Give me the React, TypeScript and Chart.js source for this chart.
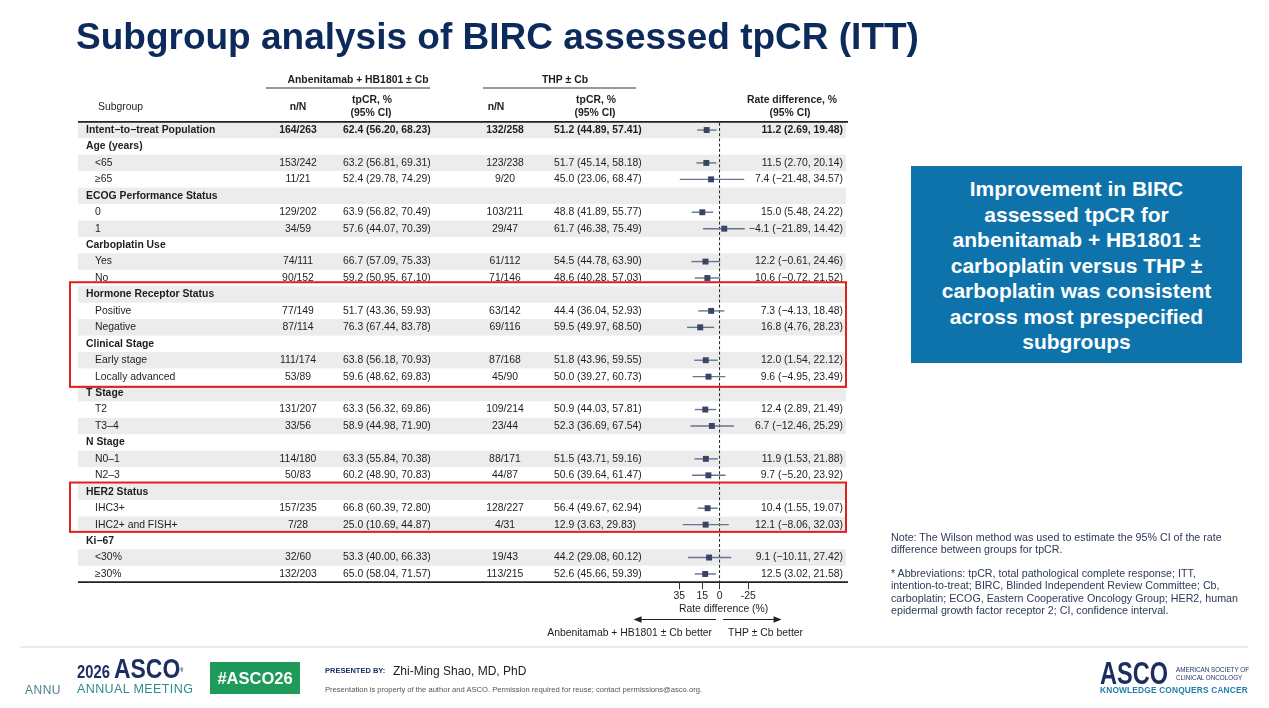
import React, { useEffect, useRef } from "react";
import { Chart, registerables } from "chart.js";

Chart.register(...registerables);

const FONT = "'Liberation Sans', Arial, Helvetica, sans-serif";

const subgroupLabels = [
  "Intent−to−treat Population",
  "Age (years)", "<65", "≥65",
  "ECOG Performance Status", "0", "1",
  "Carboplatin Use", "Yes", "No",
  "Hormone Receptor Status", "Positive", "Negative",
  "Clinical Stage", "Early stage", "Locally advanced",
  "T Stage", "T2", "T3–4",
  "N Stage", "N0–1", "N2–3",
  "HER2 Status", "IHC3+", "IHC2+ and FISH+",
  "Ki−67", "<30%", "≥30%",
];
const boldRows = [true, true, false, false, true, false, false, true, false, false, true, false, false, true, false, false, true, false, false, true, false, false, true, false, false, true, false, false];

const armAResp = [164, null, 153, 11, null, 129, 34, null, 74, 90, null, 77, 87, null, 111, 53, null, 131, 33, null, 114, 50, null, 157, 7, null, 32, 132];
const armATotal = [263, null, 242, 21, null, 202, 59, null, 111, 152, null, 149, 114, null, 174, 89, null, 207, 56, null, 180, 83, null, 235, 28, null, 60, 203];
const armARate = [62.4, null, 63.2, 52.4, null, 63.9, 57.6, null, 66.7, 59.2, null, 51.7, 76.3, null, 63.8, 59.6, null, 63.3, 58.9, null, 63.3, 60.2, null, 66.8, 25.0, null, 53.3, 65.0];
const armALow = [56.20, null, 56.81, 29.78, null, 56.82, 44.07, null, 57.09, 50.95, null, 43.36, 67.44, null, 56.18, 48.62, null, 56.32, 44.98, null, 55.84, 48.90, null, 60.39, 10.69, null, 40.00, 58.04];
const armAHigh = [68.23, null, 69.31, 74.29, null, 70.49, 70.39, null, 75.33, 67.10, null, 59.93, 83.78, null, 70.93, 69.83, null, 69.86, 71.90, null, 70.38, 70.83, null, 72.80, 44.87, null, 66.33, 71.57];

const armBResp = [132, null, 123, 9, null, 103, 29, null, 61, 71, null, 63, 69, null, 87, 45, null, 109, 23, null, 88, 44, null, 128, 4, null, 19, 113];
const armBTotal = [258, null, 238, 20, null, 211, 47, null, 112, 146, null, 142, 116, null, 168, 90, null, 214, 44, null, 171, 87, null, 227, 31, null, 43, 215];
const armBRate = [51.2, null, 51.7, 45.0, null, 48.8, 61.7, null, 54.5, 48.6, null, 44.4, 59.5, null, 51.8, 50.0, null, 50.9, 52.3, null, 51.5, 50.6, null, 56.4, 12.9, null, 44.2, 52.6];
const armBLow = [44.89, null, 45.14, 23.06, null, 41.89, 46.38, null, 44.78, 40.28, null, 36.04, 49.97, null, 43.96, 39.27, null, 44.03, 36.69, null, 43.71, 39.64, null, 49.67, 3.63, null, 29.08, 45.66];
const armBHigh = [57.41, null, 58.18, 68.47, null, 55.77, 75.49, null, 63.90, 57.03, null, 52.93, 68.50, null, 59.55, 60.73, null, 57.81, 67.54, null, 59.16, 61.47, null, 62.94, 29.83, null, 60.12, 59.39];

const diffEst = [11.2, null, 11.5, 7.4, null, 15.0, -4.1, null, 12.2, 10.6, null, 7.3, 16.8, null, 12.0, 9.6, null, 12.4, 6.7, null, 11.9, 9.7, null, 10.4, 12.1, null, 9.1, 12.5];
const diffLow = [2.69, null, 2.70, -21.48, null, 5.48, -21.89, null, -0.61, -0.72, null, -4.13, 4.76, null, 1.54, -4.95, null, 2.89, -12.46, null, 1.53, -5.20, null, 1.55, -8.06, null, -10.11, 3.02];
const diffHigh = [19.48, null, 20.14, 34.57, null, 24.22, 14.42, null, 24.46, 21.52, null, 18.48, 28.23, null, 22.12, 23.49, null, 21.49, 25.29, null, 21.88, 23.92, null, 19.07, 32.03, null, 27.42, 21.58];

const axisTicks = [35, 15, 0, -25];
const highlightGroups = [[10, 15], [22, 24]];

const fmt = (v: number, d: number) => (v < 0 ? "−" : "") + Math.abs(v).toFixed(d);
const ciText = (e: number, lo: number, hi: number) => `${fmt(e, 1)} (${fmt(lo, 2)}, ${fmt(hi, 2)})`;

const W = 1269;
const H = 708;

const tablePlugin = {
  id: "forestTable",
  beforeDraw(chart: any) {
    const { ctx } = chart;
    const ys = chart.scales.y;
    const xs = chart.scales.x;
    const half = Math.abs(ys.getPixelForValue(1.5) - ys.getPixelForValue(1));
    ctx.save();
    ctx.fillStyle = "#ececec";
    subgroupLabels.forEach((_, i) => {
      if (i % 2 === 0) {
        const c = ys.getPixelForValue(i + 1);
        ctx.fillRect(78, c - half, 768, half * 2);
      }
    });
    const top = ys.getPixelForValue(0.5);
    const bottom = ys.getPixelForValue(subgroupLabels.length + 0.5);
    ctx.strokeStyle = "#222";
    ctx.lineWidth = 1.8;
    ctx.beginPath();
    ctx.moveTo(78, top);
    ctx.lineTo(848, top);
    ctx.moveTo(78, bottom);
    ctx.lineTo(848, bottom);
    ctx.stroke();
    const x0 = xs.getPixelForValue(0);
    ctx.lineWidth = 1;
    ctx.setLineDash([3, 2.2]);
    ctx.beginPath();
    ctx.moveTo(x0, top + 1);
    ctx.lineTo(x0, bottom);
    ctx.stroke();
    ctx.restore();
  },
  afterDraw(chart: any) {
    const { ctx } = chart;
    const ys = chart.scales.y;
    const xs = chart.scales.x;
    const half = Math.abs(ys.getPixelForValue(1.5) - ys.getPixelForValue(1));
    const fs = 10.4;
    ctx.save();
    ctx.textBaseline = "middle";
    ctx.fillStyle = "#1e1e1e";

    ctx.font = `bold ${fs}px ${FONT}`;
    ctx.textAlign = "center";
    ctx.fillText("Anbenitamab + HB1801 ± Cb", 358, 80);
    ctx.fillText("THP ± Cb", 565, 80);
    ctx.strokeStyle = "#333";
    ctx.lineWidth = 1;
    ctx.beginPath();
    ctx.moveTo(266, 88);
    ctx.lineTo(430, 88);
    ctx.moveTo(483, 88);
    ctx.lineTo(636, 88);
    ctx.stroke();

    ctx.font = `${fs}px ${FONT}`;
    ctx.textAlign = "left";
    ctx.fillText("Subgroup", 98, 107);
    ctx.font = `bold ${fs}px ${FONT}`;
    ctx.textAlign = "center";
    ctx.fillText("n/N", 298, 107);
    ctx.fillText("tpCR, %", 372, 100);
    ctx.fillText("(95% CI)", 371, 113);
    ctx.fillText("n/N", 496, 107);
    ctx.fillText("tpCR, %", 596, 100);
    ctx.fillText("(95% CI)", 595, 113);
    ctx.fillText("Rate difference, %", 792, 100);
    ctx.fillText("(95% CI)", 790, 113);

    subgroupLabels.forEach((label, i) => {
      const y = ys.getPixelForValue(i + 1);
      const hasData = armAResp[i] !== null;
      const isHeader = boldRows[i] && !hasData;
      const bold = boldRows[i];
      ctx.font = `${bold ? "bold " : ""}${fs}px ${FONT}`;
      ctx.textAlign = "left";
      ctx.fillText(label, isHeader || i === 0 ? 86 : 95, y);
      if (!hasData) return;
      ctx.textAlign = "center";
      ctx.fillText(`${armAResp[i]}/${armATotal[i]}`, 298, y);
      ctx.fillText(`${armBResp[i]}/${armBTotal[i]}`, 505, y);
      ctx.textAlign = "left";
      ctx.fillText(ciText(armARate[i] as number, armALow[i] as number, armAHigh[i] as number), 343, y);
      ctx.fillText(ciText(armBRate[i] as number, armBLow[i] as number, armBHigh[i] as number), 554, y);
      ctx.textAlign = "right";
      ctx.fillText(ciText(diffEst[i] as number, diffLow[i] as number, diffHigh[i] as number), 843, y);
    });

    const x0 = xs.getPixelForValue(0);
    ctx.font = `${fs}px ${FONT}`;
    ctx.textAlign = "center";
    ctx.fillText("Rate difference (%)", x0 + 4, 609);
    const ay = 619.5;
    ctx.strokeStyle = "#222";
    ctx.fillStyle = "#222";
    ctx.lineWidth = 1.1;
    ctx.beginPath();
    ctx.moveTo(x0 - 3.5, ay);
    ctx.lineTo(x0 - 80, ay);
    ctx.moveTo(x0 + 3.5, ay);
    ctx.lineTo(x0 + 56, ay);
    ctx.stroke();
    ctx.beginPath();
    ctx.moveTo(x0 - 86, ay);
    ctx.lineTo(x0 - 78, ay - 3.2);
    ctx.lineTo(x0 - 78, ay + 3.2);
    ctx.closePath();
    ctx.fill();
    ctx.beginPath();
    ctx.moveTo(x0 + 62, ay);
    ctx.lineTo(x0 + 54, ay - 3.2);
    ctx.lineTo(x0 + 54, ay + 3.2);
    ctx.closePath();
    ctx.fill();
    ctx.fillStyle = "#1e1e1e";
    ctx.textAlign = "right";
    ctx.fillText("Anbenitamab + HB1801 ± Cb better", x0 - 7.5, 633);
    ctx.textAlign = "left";
    ctx.fillText("THP ± Cb better", x0 + 8.5, 633);

    ctx.strokeStyle = "#e0201c";
    ctx.lineWidth = 2;
    highlightGroups.forEach(([a, b], k) => {
      const t = ys.getPixelForValue(a + 1) - half - (k === 0 ? 4 : 1);
      const btm = ys.getPixelForValue(b + 1) + half + (k === 0 ? 2 : -1);
      ctx.strokeRect(70, t, 776, btm - t);
    });
    ctx.restore();
  },
};

function ForestChart() {
  const ref = useRef<HTMLCanvasElement | null>(null);
  useEffect(() => {
    if (!ref.current) return;
    const rows = subgroupLabels.map((_, i) => i).filter((i) => diffEst[i] !== null);
    const ciSets = rows.map((i) => ({
      type: "scatter" as const,
      data: [
        { x: diffLow[i] as number, y: i + 1 },
        { x: diffHigh[i] as number, y: i + 1 },
      ],
      showLine: true,
      borderColor: "#69738f",
      borderWidth: 1.4,
      pointRadius: 0,
      clip: false as any,
    }));
    const pointSet = {
      type: "scatter" as const,
      data: rows.map((i) => ({ x: diffEst[i] as number, y: i + 1 })),
      pointStyle: "rect",
      pointRadius: 4.2,
      backgroundColor: "#3a4566",
      borderWidth: 0,
      clip: false as any,
    };
    const chart = new Chart(ref.current, {
      type: "scatter",
      data: { datasets: [pointSet, ...ciSets] as any },
      options: {
        animation: false,
        responsive: false,
        events: [],
        layout: { padding: { left: 679.3, right: W - 748.3, top: 121.8, bottom: H - 582.2 - 20 } },
        plugins: { legend: { display: false }, tooltip: { enabled: false } },
        scales: {
          x: {
            type: "linear",
            reverse: true,
            min: -25,
            max: 35,
            afterBuildTicks: (s: any) => {
              s.ticks = axisTicks.map((v) => ({ value: v }));
            },
            afterFit: (s: any) => {
              s.height = 20;
            },
            border: { display: false },
            grid: { display: true, drawOnChartArea: false, drawTicks: true, tickLength: 7, color: "#333", lineWidth: 1 },
            ticks: {
              autoSkip: false,
              maxRotation: 0,
              padding: 1,
              color: "#1e1e1e",
              font: { family: FONT, size: 10.4 },
              callback: (v: any) => String(v),
            },
          },
          y: {
            type: "linear",
            reverse: true,
            min: 0.5,
            max: subgroupLabels.length + 0.5,
            display: false,
          },
        },
      },
      plugins: [tablePlugin],
    });
    return () => chart.destroy();
  }, []);
  return <canvas ref={ref} width={W} height={H} style={{ position: "absolute", left: 0, top: 0, width: W, height: H }} />;
}

const boxLines = [
  "Improvement in BIRC",
  "assessed tpCR for",
  "anbenitamab + HB1801 ±",
  "carboplatin versus THP ±",
  "carboplatin was consistent",
  "across most prespecified",
  "subgroups",
];

export default function App() {
  return (
    <div style={{ position: "absolute", left: 0, top: 0, width: W, height: H, background: "#fff", overflow: "hidden", fontFamily: FONT }}>
      <ForestChart />
      <div style={{ position: "absolute", left: 76, top: 18.2, fontSize: 37, lineHeight: "37px", fontWeight: 700, color: "#0d2a5c", whiteSpace: "nowrap" }}>
        Subgroup analysis of BIRC assessed tpCR (ITT)
      </div>
      <div style={{ position: "absolute", left: 911, top: 166, width: 331, height: 197, background: "#0e73ab", boxSizing: "border-box", paddingTop: 10.25, color: "#fff", fontWeight: 700, fontSize: 21, lineHeight: "25.5px", textAlign: "center" }}>
        {boxLines.map((l, i) => (
          <div key={i}>{l}</div>
        ))}
      </div>
      <div style={{ position: "absolute", left: 891, top: 530.7, fontSize: 10.7, lineHeight: "12.6px", color: "#2f3a5a", whiteSpace: "nowrap" }}>
        <div>Note: The Wilson method was used to estimate the 95% CI of the rate</div>
        <div>difference between groups for tpCR.</div>
        <div style={{ marginTop: 10.8 }}>* Abbreviations: tpCR, total pathological complete response; ITT,</div>
        <div>intention-to-treat; BIRC, Blinded Independent Review Committee; Cb,</div>
        <div>carboplatin; ECOG, Eastern Cooperative Oncology Group; HER2, human</div>
        <div>epidermal growth factor receptor 2; CI, confidence interval.</div>
      </div>
      <div style={{ position: "absolute", left: 20, top: 646, width: 1228, height: 2, background: "#ebebeb" }} />
      <div style={{ position: "absolute", left: 25, top: 683, fontSize: 12, lineHeight: "14px", color: "#4d7f8c", letterSpacing: 0.5 }}>ANNU</div>
      <div style={{ position: "absolute", left: 77, top: 656, whiteSpace: "nowrap", color: "#1c2f63", fontWeight: 700, transform: "scaleX(0.82)", transformOrigin: "left top" }}>
        <span style={{ fontSize: 18, lineHeight: "26px" }}>2026 </span>
        <span style={{ fontSize: 28, lineHeight: "26px" }}>ASCO</span>
        <sup style={{ fontSize: 5 }}>®</sup>
      </div>
      <div style={{ position: "absolute", left: 77, top: 682, whiteSpace: "nowrap", fontSize: 12.5, lineHeight: "14px", color: "#2f8a8c", letterSpacing: 0.4 }}>ANNUAL MEETING</div>
      <div style={{ position: "absolute", left: 210, top: 662, width: 90, height: 32, background: "#1f9a5b", color: "#fff", fontWeight: 700, fontSize: 16.5, lineHeight: "32px", textAlign: "center" }}>#ASCO26</div>
      <div style={{ position: "absolute", left: 325, top: 665, whiteSpace: "nowrap", color: "#1c2f63", fontWeight: 700, fontSize: 7.5, lineHeight: "12px" }}>PRESENTED BY:</div>
      <div style={{ position: "absolute", left: 393, top: 663, whiteSpace: "nowrap", color: "#222", fontSize: 12, lineHeight: "16px" }}>Zhi-Ming Shao, MD, PhD</div>
      <div style={{ position: "absolute", left: 325, top: 685, whiteSpace: "nowrap", color: "#555", fontSize: 7.6, lineHeight: "10px" }}>
        Presentation is property of the author and ASCO. Permission required for reuse; contact permissions@asco.org.
      </div>
      <div style={{ position: "absolute", left: 1100, top: 658, whiteSpace: "nowrap", color: "#1c2d5e", fontWeight: 700, fontSize: 31, lineHeight: "32px", transform: "scaleX(0.76)", transformOrigin: "left top" }}>ASCO</div>
      <div style={{ position: "absolute", left: 1176, top: 666, whiteSpace: "nowrap", color: "#1c2d5e", fontSize: 6.3, lineHeight: "7.5px" }}>
        <div>AMERICAN SOCIETY OF</div>
        <div>CLINICAL ONCOLOGY</div>
      </div>
      <div style={{ position: "absolute", left: 1100, top: 685, whiteSpace: "nowrap", color: "#1e7fa8", fontWeight: 700, fontSize: 8.3, lineHeight: "10px", letterSpacing: 0.2 }}>KNOWLEDGE CONQUERS CANCER</div>
    </div>
  );
}
